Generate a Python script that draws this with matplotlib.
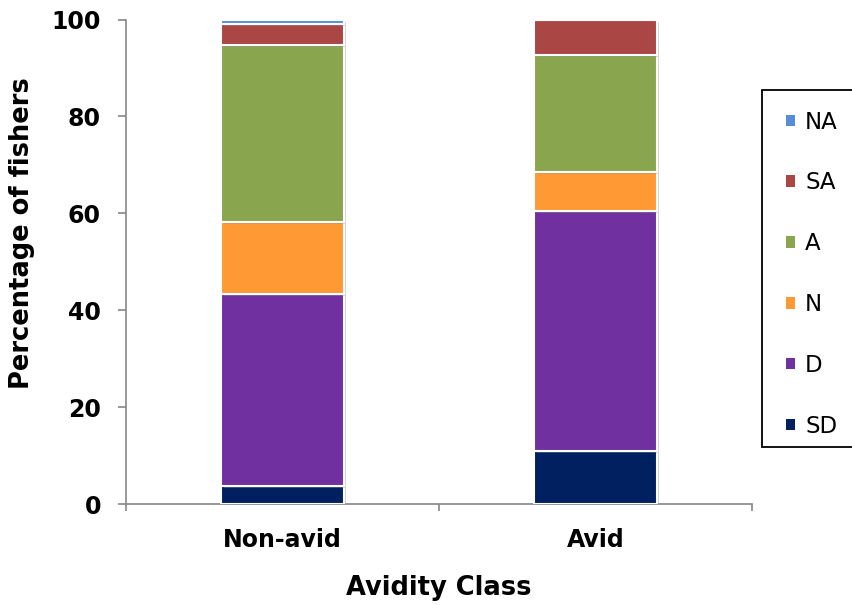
import matplotlib
matplotlib.use("Agg")
import matplotlib.pyplot as plt
import matplotlib.patheffects as pe
from matplotlib.patches import Patch, Rectangle
import numpy as np

categories = ["Non-avid", "Avid"]
levels = ["SD", "D", "N", "A", "SA", "NA"]
values = {
    "SD": [3.7, 11.0],
    "D": [39.7, 49.5],
    "N": [14.8, 8.1],
    "A": [36.5, 24.0],
    "SA": [4.3, 7.4],
    "NA": [1.0, 0.0],
}
colors = {
    "SD": "#002060",
    "D": "#7030A0",
    "N": "#FF9933",
    "A": "#89A54E",
    "SA": "#AA4643",
    "NA": "#558ED5",
}

plt.rcParams["font.family"] = ["DejaVu Sans"]

fig = plt.figure(figsize=(8.53, 6.05), dpi=100)
ax = fig.add_axes([126 / 853, 1 - 504 / 605, (752 - 126) / 853, (504 - 19.5) / 605])

x = np.arange(len(categories))
bottom = np.zeros(len(categories))
shadow = [pe.SimplePatchShadow(offset=(1.5, -1.5), shadow_rgbFace="#888888", alpha=0.35), pe.Normal()]
for lvl in levels:
    v = np.array(values[lvl])
    bars = ax.bar(x, v, bottom=bottom, width=0.39, color=colors[lvl],
                  edgecolor="white", linewidth=1.5, zorder=3)
    for b in bars:
        b.set_path_effects(shadow)
    bottom += v

ax.set_xlim(-0.5, 1.5)
ax.set_ylim(0, 100)
ax.set_yticks([0, 20, 40, 60, 80, 100])
ax.set_xticks(x)
ax.set_xticklabels(categories)
ax.set_xticks([-0.5, 0.5, 1.5], minor=True)
ax.tick_params(axis="x", which="major", length=0, pad=17, labelsize=17)
ax.tick_params(axis="x", which="minor", length=5, color="#888888", width=1.2)
ax.tick_params(axis="y", length=6, color="#888888", width=1.2, labelsize=17, pad=12)
for lab in ax.get_xticklabels() + ax.get_yticklabels():
    lab.set_fontweight("bold")

for side in ["top", "right"]:
    ax.spines[side].set_visible(False)
for side in ["left", "bottom"]:
    ax.spines[side].set_color("#888888")
    ax.spines[side].set_linewidth(1.2)

ax.set_ylabel("Percentage of fishers", fontsize=18.5, fontweight="bold")
ax.yaxis.set_label_coords(-0.146, 0.56)
ax.set_xlabel("Avidity Class", fontsize=18.5, fontweight="bold", labelpad=17)

# legend box, drawn as a figure-level frame
fig.patches.append(Rectangle((762 / 853, 1 - 447 / 605), 0.2, (447 - 90) / 605,
                             transform=fig.transFigure, facecolor="white",
                             edgecolor="black", linewidth=1.3, zorder=1))
handles = [Patch(facecolor=colors[l], edgecolor="none") for l in reversed(levels)]
leg = fig.legend(handles, list(reversed(levels)), loc="upper left",
                 bbox_to_anchor=(765 / 853, 1 - 90 / 605), frameon=False,
                 fontsize=16.5, handlelength=0.4, handleheight=0.4,
                 handletextpad=0.45, labelspacing=1.65)

fig.savefig("out.png", dpi=100)
